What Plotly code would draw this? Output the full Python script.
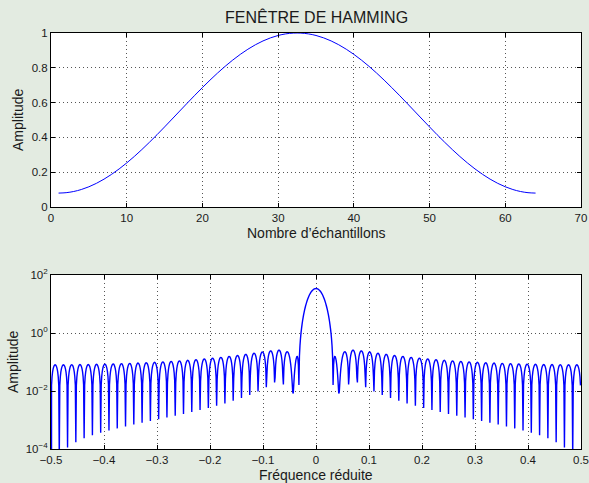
import numpy as np
import plotly.graph_objects as go

# Hamming window samples (64 points, symmetric), first half listed
half = [0.0800000, 0.0822858, 0.0891207, 0.1004365,
        0.1161209, 0.1360181, 0.1599302, 0.1876196,
        0.2188111, 0.2531947, 0.2904287, 0.3301431,
        0.3719431, 0.4154134, 0.4601218, 0.5056242,
        0.5514681, 0.5971981, 0.6423596, 0.6865039,
        0.7291921, 0.7700000, 0.8085221, 0.8443755,
        0.8772039, 0.9066810, 0.9325138, 0.9544457,
        0.9722586, 0.9857756, 0.9948622, 0.9994282]
window = half + half[::-1]
sample_index = list(range(1, 65))

# spectrum of the window (zero-padded FFT), shown on a log scale
nfft = 1024
spectrum = np.abs(np.fft.fftshift(np.fft.fft(np.array(window), nfft)))
freq = np.arange(-nfft // 2, nfft // 2) / nfft

top_xticks = [0, 10, 20, 30, 40, 50, 60, 70]
top_yticks = [0, 0.2, 0.4, 0.6, 0.8, 1]
top_yticktext = ["0", "0.2", "0.4", "0.6", "0.8", "1"]
bot_xticks = [-0.5, -0.4, -0.3, -0.2, -0.1, 0, 0.1, 0.2, 0.3, 0.4, 0.5]
bot_xticktext = ["\u22120.5", "\u22120.4", "\u22120.3", "\u22120.2", "\u22120.1", "0",
                 "0.1", "0.2", "0.3", "0.4", "0.5"]
bot_yticks = [1e-4, 1e-2, 1, 100]
bot_yticktext = ["10<sup>\u22124</sup>", "10<sup>\u22122</sup>", "10<sup>0</sup>", "10<sup>2</sup>"]

BG = "#e3ebe1"
FONT = "Liberation Sans, Arial, Helvetica, sans-serif"
TXT = "#1a1a1a"

W, H = 589, 483
ML, MR, MT, MB = 51, 8, 33, 34
PW, PH = W - ML - MR, H - MT - MB


def px(x):
    return (x - ML) / PW


def py(y):
    return (H - MB - y) / PH


fig = go.Figure()
fig.add_trace(go.Scatter(x=sample_index, y=window, mode="lines", line_shape="spline",
                         line=dict(color="#0000ff", width=1.0), xaxis="x", yaxis="y",
                         showlegend=False))
fig.add_trace(go.Scatter(x=freq, y=spectrum, mode="lines",
                         line=dict(color="#0000ff", width=1.4, simplify=False),
                         xaxis="x2", yaxis="y2", showlegend=False))

axis_common = dict(showline=True, linecolor="black", linewidth=1, mirror="ticks",
                   ticks="inside", ticklen=4, tickcolor="black",
                   showgrid=True, gridcolor="#555555", griddash="1px,3px", gridwidth=1,
                   zeroline=False, automargin=False,
                   tickfont=dict(size=11.5, color=TXT, family=FONT))

fig.update_layout(
    width=W, height=H,
    paper_bgcolor=BG, plot_bgcolor="white",
    margin=dict(l=ML, r=MR, t=MT, b=MB),
    font=dict(family=FONT, size=12, color=TXT),
    xaxis=dict(domain=[0, 1], anchor="y", range=[0, 70], tickvals=top_xticks, **axis_common),
    yaxis=dict(domain=[py(207), py(33)], anchor="x", range=[0, 1],
               tickvals=top_yticks, ticktext=top_yticktext, **axis_common),
    xaxis2=dict(domain=[0, 1], anchor="y2", range=[-0.5, 0.5], tickvals=bot_xticks,
                ticktext=bot_xticktext, **axis_common),
    yaxis2=dict(domain=[py(449), py(275)], anchor="x2", type="log",
                range=[-4, 2], tickvals=bot_yticks, ticktext=bot_yticktext, **axis_common),
)

labels = [
    ("FEN\u00caTRE DE HAMMING", 316, 17, 16, 0),
    ("Nombre d\u2019\u00e9chantillons", 316, 233, 14, 0),
    ("Amplitude", 18, 120, 14, -90),
    ("Fr\u00e9quence r\u00e9duite", 316, 475, 14, 0),
    ("Amplitude", 13, 362, 14, -90),
]
for text, x, y, size, ang in labels:
    fig.add_annotation(text=text, x=px(x), y=py(y), xref="paper", yref="paper",
                       showarrow=False, xanchor="center", yanchor="middle", textangle=ang,
                       font=dict(size=size, color=TXT, family=FONT))

page_css = ("document.body.style.margin='0';document.body.style.padding='0';"
            "document.body.style.overflow='hidden';"
            "document.body.style.background='" + BG + "';")
fig.write_html("out.html", post_script=page_css, config={"displayModeBar": False})
